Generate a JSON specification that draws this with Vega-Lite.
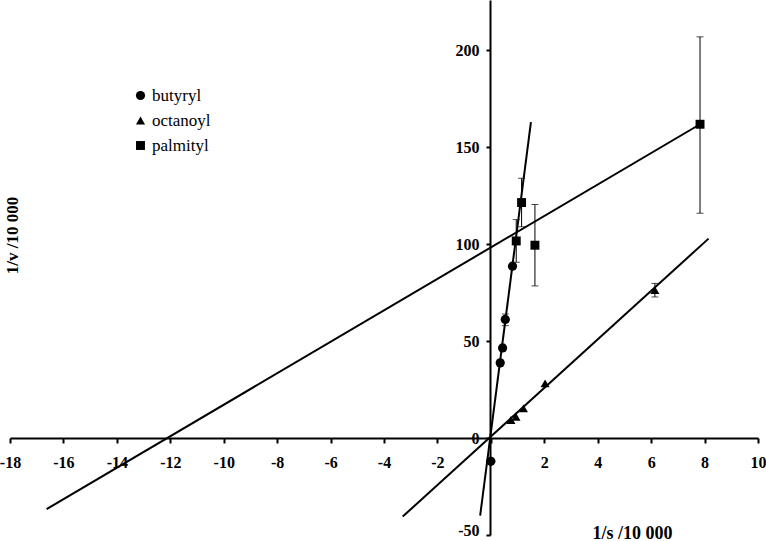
{
  "$schema": "https://vega.github.io/schema/vega-lite/v6.json",
  "width": 748,
  "height": 535,
  "autosize": {"type": "none"},
  "padding": {"left": 10, "top": 0, "right": 8, "bottom": 6},
  "background": "white",
  "config": {"view": {"stroke": null}, "font": "Liberation Serif"},
  "datasets": {
    "points": [
      {"series": "butyryl", "x": 0.0, "y": -12},
      {"series": "butyryl", "x": 0.35, "y": 38.8},
      {"series": "butyryl", "x": 0.44, "y": 46.5},
      {"series": "butyryl", "x": 0.54, "y": 61.2, "lo": 58, "hi": 64},
      {"series": "butyryl", "x": 0.81, "y": 88.7},
      {"series": "octanoyl", "x": 0.75, "y": 9.3},
      {"series": "octanoyl", "x": 0.94, "y": 11.0},
      {"series": "octanoyl", "x": 1.22, "y": 15.3},
      {"series": "octanoyl", "x": 2.03, "y": 28.2},
      {"series": "octanoyl", "x": 6.14, "y": 76.3, "lo": 72.8, "hi": 79.8},
      {"series": "palmityl", "x": 0.95, "y": 101.7, "lo": 90.7, "hi": 112.7},
      {"series": "palmityl", "x": 1.15, "y": 121.5, "lo": 109, "hi": 134},
      {"series": "palmityl", "x": 1.65, "y": 99.5, "lo": 78.5, "hi": 120.5},
      {"series": "palmityl", "x": 7.83, "y": 161.9, "lo": 116, "hi": 207}
    ],
    "fits": [
      {"series": "butyryl", "x": -0.4, "y": -40},
      {"series": "butyryl", "x": 1.5, "y": 163},
      {"series": "octanoyl", "x": -3.3, "y": -40.5},
      {"series": "octanoyl", "x": 8.15, "y": 102.9},
      {"series": "palmityl", "x": -16.63, "y": -36.6},
      {"series": "palmityl", "x": 7.83, "y": 161.9}
    ]
  },
  "encoding": {
    "x": {
      "field": "x",
      "type": "quantitative",
      "scale": {"domain": [-18, 10], "nice": false, "zero": false},
      "axis": {
        "values": [-18, -16, -14, -12, -10, -8, -6, -4, -2, 0, 2, 4, 6, 8, 10],
        "offset": -97,
        "grid": false,
        "domainColor": "black",
        "domainWidth": 2,
        "tickColor": "black",
        "tickWidth": 2,
        "tickSize": 5,
        "labelFont": "Liberation Serif",
        "labelFontWeight": "bold",
        "labelFontSize": 16,
        "labelColor": "black",
        "labelPadding": 11,
        "labelFlush": false,
        "labelOverlap": false,
        "labelExpr": "datum.value == 0 ? '' : '' + datum.value",
        "title": "1/s /10 000",
        "titleFont": "Liberation Serif",
        "titleFontSize": 18,
        "titleFontWeight": "bold",
        "titleColor": "black",
        "titleX": 622,
        "titleY": 95,
        "titleAlign": "center",
        "titleBaseline": "middle"
      }
    },
    "y": {
      "field": "y",
      "type": "quantitative",
      "title": "1/v /10 000",
      "scale": {"domain": [-50, 226], "nice": false, "zero": false},
      "axis": {
        "values": [-50, 0, 50, 100, 150, 200],
        "offset": -480,
        "grid": false,
        "domainColor": "black",
        "domainWidth": 2,
        "tickColor": "black",
        "tickWidth": 2,
        "tickSize": 4,
        "labelFont": "Liberation Serif",
        "labelFontWeight": "bold",
        "labelFontSize": 16,
        "labelColor": "black",
        "labelPadding": 7,
        "labelBaseline": "alphabetic",
        "labelOffset": {"condition": {"test": "datum.value == -50", "value": 0}, "value": 5},
        "labelFlush": false,
        "labelOverlap": false,
        "labelExpr": "'' + datum.value",
        "title": "1/v /10 000",
        "titleFont": "Liberation Serif",
        "titleFontSize": 17,
        "titleFontWeight": "bold",
        "titleColor": "black",
        "titleX": -478,
        "titleY": 235,
        "titleAngle": -90,
        "titleAlign": "center",
        "titleBaseline": "middle"
      }
    }
  },
  "layer": [
    {
      "data": {"name": "fits"},
      "mark": {"type": "line", "color": "black", "strokeWidth": 2},
      "encoding": {"detail": {"field": "series"}}
    },
    {
      "data": {"name": "points"},
      "transform": [{"filter": "datum.lo != null"}],
      "mark": {"type": "rule", "color": "black", "strokeWidth": 1},
      "encoding": {
        "y": {"field": "lo", "type": "quantitative", "title": "1/v /10 000"},
        "y2": {"field": "hi"}
      }
    },
    {
      "data": {"name": "points"},
      "transform": [{"filter": "datum.lo != null"}],
      "mark": {"type": "tick", "orient": "horizontal", "color": "black", "size": 7, "thickness": 1},
      "encoding": {"y": {"field": "lo", "type": "quantitative", "title": "1/v /10 000"}}
    },
    {
      "data": {"name": "points"},
      "transform": [{"filter": "datum.lo != null"}],
      "mark": {"type": "tick", "orient": "horizontal", "color": "black", "size": 7, "thickness": 1},
      "encoding": {"y": {"field": "hi", "type": "quantitative", "title": "1/v /10 000"}}
    },
    {
      "data": {"name": "points"},
      "mark": {"type": "point", "filled": true, "color": "black", "opacity": 1},
      "encoding": {
        "shape": {
          "field": "series",
          "type": "nominal",
          "scale": {"domain": ["butyryl", "octanoyl", "palmityl"], "range": ["circle", "triangle-up", "square"]},
          "legend": {
            "orient": "none",
            "legendX": 122,
            "legendY": 87,
            "title": null,
            "padding": 0,
            "labelFont": "Liberation Serif",
            "labelFontSize": 17,
            "labelColor": "black",
            "labelOffset": 3,
            "rowPadding": 7,
            "symbolFillColor": "black",
            "symbolStrokeColor": "black"
          }
        },
        "size": {
          "field": "series",
          "type": "nominal",
          "scale": {"domain": ["butyryl", "octanoyl", "palmityl"], "range": [85, 80, 140]},
          "legend": {
            "orient": "none",
            "legendX": 122,
            "legendY": 87,
            "title": null,
            "padding": 0,
            "labelFont": "Liberation Serif",
            "labelFontSize": 17,
            "labelColor": "black",
            "labelOffset": 3,
            "rowPadding": 7,
            "symbolFillColor": "black",
            "symbolStrokeColor": "black"
          }
        }
      }
    }
  ]
}
